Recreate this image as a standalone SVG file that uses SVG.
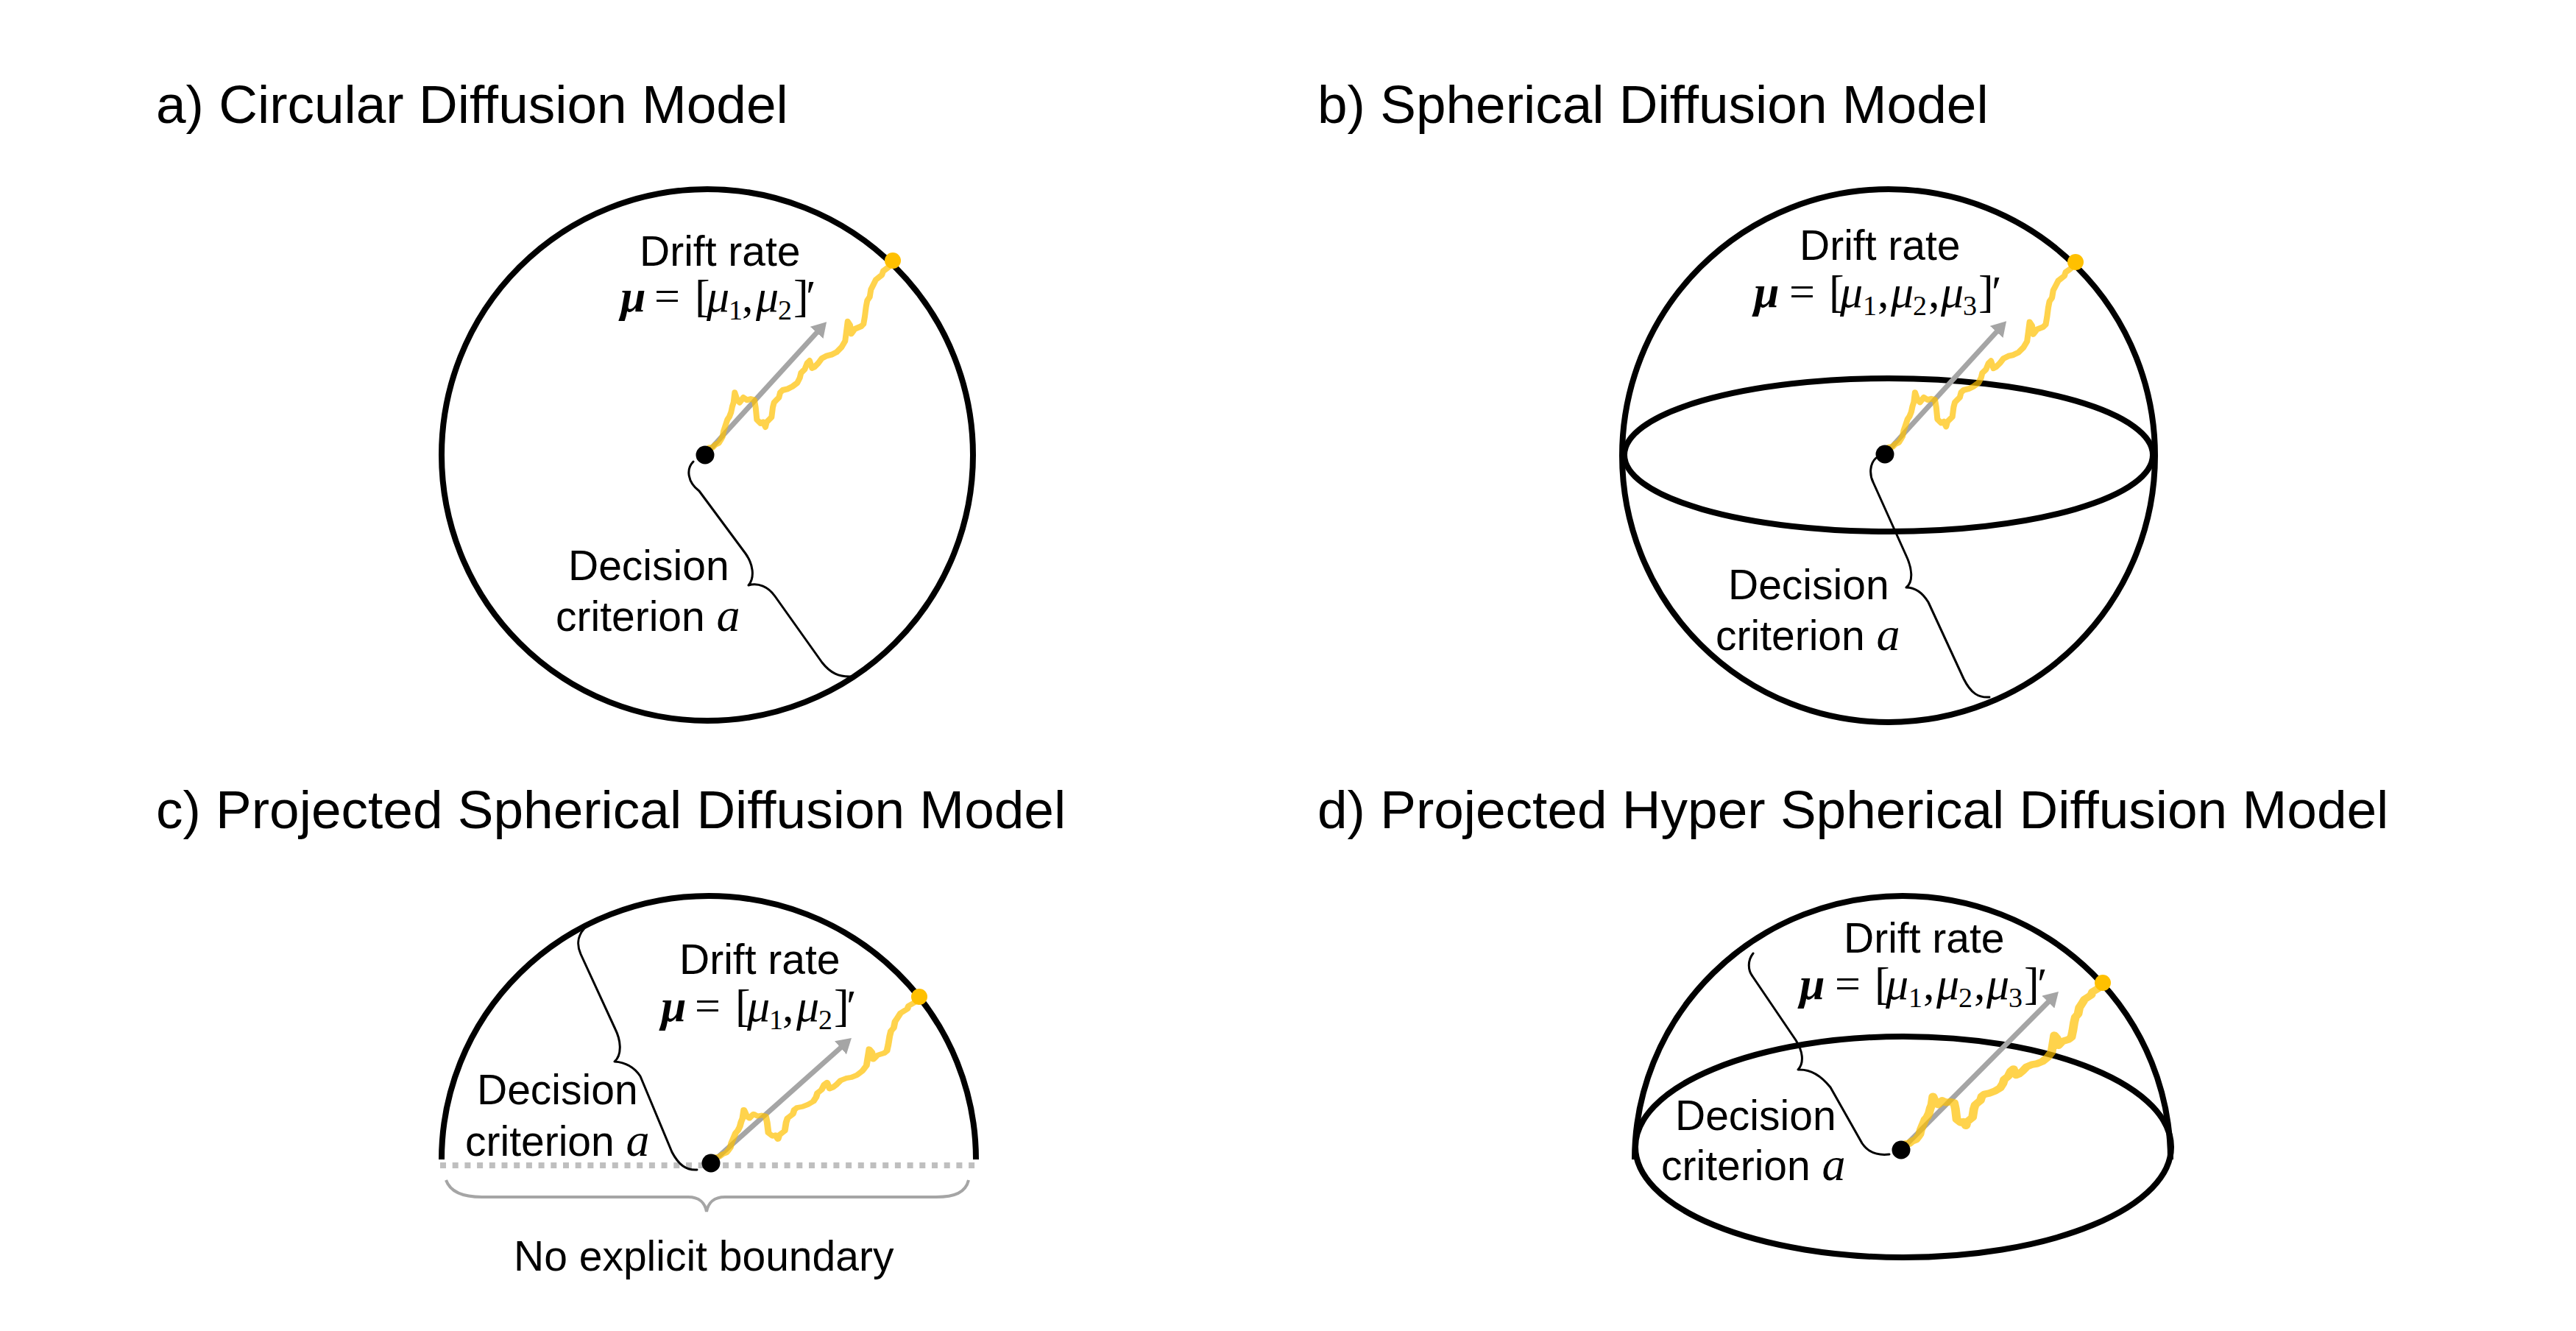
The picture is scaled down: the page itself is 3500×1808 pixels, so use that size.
<svg xmlns="http://www.w3.org/2000/svg" xmlns:xlink="http://www.w3.org/1999/xlink" width="3500" height="1808" viewBox="0 0 3500 1808">
<style>
.t{font-family:"Liberation Sans",Arial,sans-serif;font-size:73px;fill:#000}
.l{font-family:"Liberation Sans",Arial,sans-serif;font-size:57px;fill:#000}
.m{font-family:"Liberation Serif","Times New Roman",serif;font-size:62px;fill:#000}
.bi{font-weight:bold;font-style:italic}
.it{font-style:italic}
.sub{font-size:38px}
.ai{font-family:"Liberation Serif","Times New Roman",serif;font-style:italic;font-size:64px}
.shape{fill:none;stroke:#000;stroke-width:8}
.brace{fill:none;stroke:#000;stroke-width:3;stroke-linecap:round;stroke-linejoin:round}
.arrow{stroke:#a5a5a5;stroke-width:7;fill:none;marker-end:url(#ah)}
.walk{fill:none;stroke:#FFC000;stroke-opacity:0.7;stroke-width:8;stroke-linejoin:round;stroke-linecap:round}
.dot{fill:#000}
.ydot{fill:#FFC000}
</style>
<defs>
<marker id="ah" viewBox="0 0 20 24" refX="8" refY="12" markerWidth="20" markerHeight="24" markerUnits="userSpaceOnUse" orient="auto">
<path d="M0,0 L20,12 L0,24 z" fill="#a5a5a5"/>
</marker>
<path id="walk" d="M0,0 L5.3,-9.7 L10,-10 L14,-14 L18.7,-16.3 L21,-20 L23.7,-24.7 L25,-32 L27,-38 L30.3,-48 L33,-52 L35.3,-58 L37,-66 L38.7,-71.3 L40.3,-84.7 L43.7,-74.7 L47,-71.3 L52,-78 L57,-74.7 L62,-76 L67,-74.7 L68.7,-64.7 L70.3,-48 L75.3,-43 L78.7,-44.7 L82,-38 L83.7,-44.7 L87,-48 L90.3,-51.3 L92,-64.7 L93.7,-71.3 L97,-74.7 L100.3,-78 L102,-84.7 L105.3,-88 L112,-89.7 L118.7,-93 L125.3,-98 L128.7,-104.7 L130.3,-111.3 L135.3,-116.3 L138.7,-124.7 L142,-128 L145.3,-118 L148.7,-119.7 L153.7,-124.7 L158.7,-131.3 L165.3,-134.7 L172,-136.3 L178.7,-139.7 L185.3,-146.3 L190.3,-154.7 L192,-168 L193.7,-181.3 L197,-176.3 L198.7,-164.7 L203.7,-171.3 L212,-174.7 L215.3,-178 L217,-188 L218.7,-201.3 L220.3,-209.7 L223.7,-214.7 L225.3,-224.7 L228.7,-231.3 L232,-238 L240.3,-244.7 L242,-249.7 L248.7,-254.7 L255,-264"/>
</defs>
<rect width="3500" height="1808" fill="#fff"/>

<g id="titles">
<text class="t" x="212" y="167">a) Circular Diffusion Model</text>
<text class="t" x="1790" y="167">b) Spherical Diffusion Model</text>
<text class="t" x="212" y="1125">c) Projected Spherical Diffusion Model</text>
<text class="t" x="1790" y="1125">d) Projected Hyper Spherical Diffusion Model</text>
</g>

<g id="panel-a">
<circle class="shape" cx="961" cy="618" r="361"/>
<text class="l" x="869" y="361">Drift rate</text>
<text class="m" y="423"><tspan x="843" class="bi">μ</tspan><tspan x="889">=</tspan><tspan x="944">[</tspan><tspan x="960" class="it">μ</tspan><tspan x="990" y="434" class="sub">1</tspan><tspan x="1008" y="423">,</tspan><tspan x="1027" class="it">μ</tspan><tspan x="1057" y="434" class="sub">2</tspan><tspan x="1078" y="423">]</tspan><tspan x="1095">′</tspan></text>
<text class="l" x="772" y="788">Decision</text>
<text class="l" x="755" y="857">criterion <tspan class="ai">a</tspan></text>
</g>

<g id="panel-b">
<circle class="shape" cx="2566" cy="619" r="362"/>
<ellipse class="shape" cx="2566" cy="618" rx="359" ry="104"/>
<text class="l" x="2445" y="353">Drift rate</text>
<text class="m" y="417"><tspan x="2383" class="bi">μ</tspan><tspan x="2431">=</tspan><tspan x="2485">[</tspan><tspan x="2500" class="it">μ</tspan><tspan x="2531" y="428" class="sub">1</tspan><tspan x="2551" y="417">,</tspan><tspan x="2569" class="it">μ</tspan><tspan x="2599" y="428" class="sub">2</tspan><tspan x="2620" y="417">,</tspan><tspan x="2637" class="it">μ</tspan><tspan x="2667" y="428" class="sub">3</tspan><tspan x="2688" y="417">]</tspan><tspan x="2706">′</tspan></text>
<text class="l" x="2348" y="814">Decision</text>
<text class="l" x="2331" y="883">criterion <tspan class="ai">a</tspan></text>
</g>

<g id="panel-c">
<path class="shape" stroke-width="9" d="M600 1575 A363 358 0 0 1 1326 1575"/>
<line x1="598" y1="1583" x2="1330" y2="1583" stroke="#bfbfbf" stroke-width="8" stroke-dasharray="8 8.7"/>
<path d="M606 1603 C612 1620 630 1626 655 1626 L935 1626 C950 1626 958 1634 960 1646 C962 1634 970 1626 985 1626 L1272 1626 C1297 1626 1312 1620 1316 1603" fill="none" stroke="#a5a5a5" stroke-width="4"/>
<text class="l" x="923" y="1323">Drift rate</text>
<text class="m" y="1387"><tspan x="898" class="bi">μ</tspan><tspan x="944">=</tspan><tspan x="999">[</tspan><tspan x="1015" class="it">μ</tspan><tspan x="1045" y="1398" class="sub">1</tspan><tspan x="1063" y="1387">,</tspan><tspan x="1082" class="it">μ</tspan><tspan x="1112" y="1398" class="sub">2</tspan><tspan x="1133" y="1387">]</tspan><tspan x="1150">′</tspan></text>
<text class="l" x="648" y="1500">Decision</text>
<text class="l" x="632" y="1570">criterion <tspan class="ai">a</tspan></text>
<text class="l" x="698" y="1726">No explicit boundary</text>
</g>

<g id="panel-d">
<path class="shape" d="M2221 1575 A364 358 0 0 1 2949 1575"/>
<ellipse class="shape" cx="2586" cy="1558" rx="364" ry="150"/>
<text class="l" x="2505" y="1294">Drift rate</text>
<text class="m" y="1357"><tspan x="2445" class="bi">μ</tspan><tspan x="2493">=</tspan><tspan x="2547">[</tspan><tspan x="2562" class="it">μ</tspan><tspan x="2593" y="1368" class="sub">1</tspan><tspan x="2613" y="1357">,</tspan><tspan x="2631" class="it">μ</tspan><tspan x="2661" y="1368" class="sub">2</tspan><tspan x="2682" y="1357">,</tspan><tspan x="2699" class="it">μ</tspan><tspan x="2729" y="1368" class="sub">3</tspan><tspan x="2750" y="1357">]</tspan><tspan x="2768">′</tspan></text>
<text class="l" x="2276" y="1535">Decision</text>
<text class="l" x="2257" y="1603">criterion <tspan class="ai">a</tspan></text>
</g>

<g id="connectors">
<path class="brace" d="M942 627 C932 637 934 655 950 667 L1013 752 C1023 766 1026 784 1017 795 C1030 791 1044 797 1053 810 L1117 900 C1128 914 1140 920 1157 919"/>
<path class="brace" d="M2549 622 C2540 630 2540 645 2545 655 L2590 755 C2598 772 2600 790 2590 798 C2603 798 2612 805 2620 818 L2668 922 C2678 942 2688 948 2703 947"/>
<path class="brace" d="M794 1261 C784 1272 784 1285 789 1296 L836 1398 C843 1412 846 1432 835 1442 C850 1443 862 1450 870 1462 L913 1565 C922 1582 932 1590 947 1589"/>
<path class="brace" d="M2382 1295 C2374 1305 2375 1318 2381 1326 L2440 1413 C2449 1427 2452 1443 2443 1453 C2460 1452 2475 1462 2487 1477 L2530 1553 C2538 1565 2550 1570 2567 1568"/>
<path class="arrow" d="M958 618 L1115 446"/>
<path class="arrow" d="M2561 617 L2718 445"/>
<path class="arrow" d="M966 1580 L1148 1418"/>
<path class="arrow" d="M2583 1562 L2788.5 1355.5"/>
<use xlink:href="#walk" class="walk" transform="translate(958 618)"/>
<use xlink:href="#walk" class="walk" transform="translate(2561 617) scale(1.015 0.99)"/>
<use xlink:href="#walk" class="walk" transform="translate(966 1580) scale(1.11 0.856)"/>
<use xlink:href="#walk" class="walk" transform="translate(2583 1562) scale(1.075 0.86)" style="stroke-width:11"/>
</g>

<g id="dots">
<circle class="dot" cx="958" cy="618" r="12.5"/>
<circle class="ydot" cx="1213" cy="354" r="11"/>
<circle class="dot" cx="2561" cy="617" r="12.5"/>
<circle class="ydot" cx="2820" cy="356" r="11"/>
<circle class="dot" cx="966" cy="1580" r="12.5"/>
<circle class="ydot" cx="1249" cy="1354" r="11"/>
<circle class="dot" cx="2583" cy="1562" r="12.5"/>
<circle class="ydot" cx="2857" cy="1335" r="11"/>
</g>
</svg>
